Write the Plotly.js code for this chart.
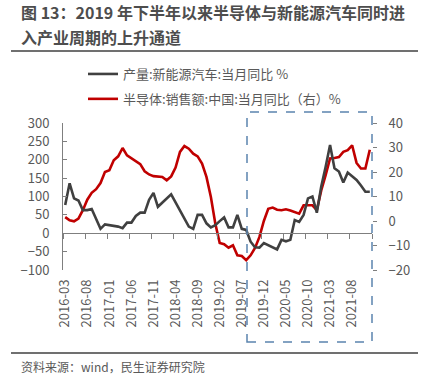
<!DOCTYPE html>
<html>
<head>
<meta charset="utf-8">
<script src="https://cdn.plot.ly/plotly-3.0.1.min.js"></script>
<style>html,body{margin:0;padding:0;background:#fff;}#chart{width:435px;height:385px;}</style>
</head>
<body>
<div id="chart"></div>
<script>
// Monthly data 2016-03 .. 2021-12 (70 months)
const startYear = 2016, startMonth = 3, nMonths = 70;
const months = [];
for (let k = 0; k < nMonths; k++) {
  const m0 = startMonth - 1 + k;
  const y = startYear + Math.floor(m0 / 12);
  const m = (m0 % 12) + 1;
  months.push(y + '-' + (m < 10 ? '0' + m : m));
}
const monthIndex = months.map((_, k) => k);

// 产量:新能源汽车:当月同比 % (left axis)
const nevProduction = [
  77, 136, 95, 89, 63, 63, 66, 41, 12, 24,
  22, 21, 18, 14, 29, 29, 47, 56, 56, 91,
  110, 72, 83, 95, 106, 84, 61, 40, 18, 12,
  50, 50, 27, 16, 22, 33, 43, 16, 16, 50,
  12, 9, -23, -38, -39, -27, -32, -38, -44, -18,
  -22, -18, 36, 31, 50, 95, 100, 56, 127, 181,
  240, 177, 168, 138, 165, 155, 145, 130, 113, 113
];
// 半导体:销售额:中国:当月同比（右）% (right axis)
const semiSales = [
  1.6, 0.3, -0.1, 1, 4.4, 8.7, 11.5, 13, 15.5, 20,
  20.7, 24.8, 26.4, 29.8, 26.8, 25.5, 24.3, 23.2, 20.3, 19,
  18.3, 18, 18, 16.6, 18.2, 21.8, 28.2, 30.6, 29.5, 27.5,
  26.4, 23.4, 18, 9.8, -1, -9, -9.5, -10.9, -9.9, -14,
  -14.3, -16, -14, -11, -6.5, 0, 5, 5.5, 4.6, 4.4,
  4.8, 4.3, 3.7, 3, 6.4, 6.4, 6.4, 4.4, 12.5, 18.7,
  25.5, 25.7, 26.1, 28.2, 28.9, 30.9, 23.7, 21.4, 21.4, 29.1
];
const tickIdx = monthIndex.filter(k => k % 5 === 0);
const tickLabels = tickIdx.map(k => months[k]);
const leftTicks = [-100, -50, 0, 50, 100, 150, 200, 250, 300];
const rightTicks = [-20, -10, 0, 10, 20, 30, 40];

const FONT = '"Noto Sans CJK SC", "Noto Sans", sans-serif';
const TXT = '#595959';

// pixel -> paper helpers (plot area: x 63..372, y 123..270)
const px = x => (x - 63) / 309;
const py = y => (270 - y) / 147;

const traces = [
  {
    x: monthIndex, y: nevProduction, xaxis: 'x2', yaxis: 'y',
    type: 'scatter', mode: 'lines', name: '产量:新能源汽车:当月同比 %',
    line: {color: '#404040', width: 2.6}, legendgroup: 'a', hoverinfo: 'skip'
  },
  {
    x: monthIndex, y: semiSales, xaxis: 'x', yaxis: 'y2',
    type: 'scatter', mode: 'lines', name: '半导体:销售额:中国:当月同比（右）%',
    line: {color: '#C00000', width: 2.6}, legendgroup: 'b', hoverinfo: 'skip'
  }
];

const layout = {
  width: 435, height: 385,
  margin: {l: 63, r: 63, t: 123, b: 115},
  paper_bgcolor: '#fff', plot_bgcolor: 'rgba(0,0,0,0)',
  font: {family: FONT, size: 13, color: TXT},
  showlegend: true,
  legend: {
    x: px(83), y: py(59), xanchor: 'left', yanchor: 'top',
    orientation: 'v', itemwidth: 30, tracegroupgap: 5,
    font: {family: FONT, size: 13, color: TXT}, bgcolor: 'rgba(0,0,0,0)'
  },
  xaxis: {
    range: [-0.5, 69.5], tickvals: tickIdx, ticktext: tickLabels,
    tickangle: -90, showline: false, ticks: '', showgrid: false, zeroline: false,
    tickfont: {family: FONT, size: 13, color: TXT}, ticklabelstandoff: 6
  },
  xaxis2: {
    range: [-0.5, 69.5], overlaying: 'x', anchor: 'free', position: 0.25, side: 'bottom',
    showline: true, linecolor: '#7f7f7f', linewidth: 1,
    ticks: 'outside', ticklen: 5, tickcolor: '#7f7f7f', tick0: 4.5, dtick: 5,
    showticklabels: false, showgrid: false, zeroline: false
  },
  yaxis: {
    range: [-100, 300], tickvals: leftTicks, showgrid: false, zeroline: false,
    showline: true, linecolor: '#7f7f7f', linewidth: 1,
    ticks: 'inside', ticklen: 4, tickcolor: '#7f7f7f', ticklabelstandoff: 10,
    tickfont: {family: FONT, size: 13, color: TXT}
  },
  yaxis2: {
    range: [-20, 40], tickvals: rightTicks, overlaying: 'y', side: 'right',
    showgrid: false, zeroline: false, showline: false,
    ticks: 'outside', ticklen: 4, tickcolor: '#7f7f7f', ticklabelstandoff: 9,
    tickfont: {family: FONT, size: 13, color: TXT}
  },
  shapes: [
    {type: 'line', xref: 'paper', yref: 'paper', x0: px(11), x1: px(418), y0: py(51), y1: py(51),
     line: {color: '#404040', width: 1.5}},
    {type: 'line', xref: 'paper', yref: 'paper', x0: px(11), x1: px(418), y0: py(353), y1: py(353),
     line: {color: '#404040', width: 1.5}},
    {type: 'rect', xref: 'paper', yref: 'paper', x0: px(247), x1: px(372), y0: py(342), y1: py(112),
     line: {color: '#5B84AE', width: 1.5, dash: 'dash'}, fillcolor: 'rgba(0,0,0,0)'}
  ],
  annotations: [
    {text: '<b>图 13：2019 年下半年以来半导体与新能源汽车同时进</b>', xref: 'paper', yref: 'paper',
     x: px(19), y: py(12), xanchor: 'left', yanchor: 'middle', showarrow: false,
     font: {family: FONT, size: 16, color: '#4d4d4d'}},
    {text: '<b>入产业周期的上升通道</b>', xref: 'paper', yref: 'paper',
     x: px(19), y: py(37), xanchor: 'left', yanchor: 'middle', showarrow: false,
     font: {family: FONT, size: 16, color: '#4d4d4d'}},
    {text: '资料来源：wind，民生证券研究院', xref: 'paper', yref: 'paper',
     x: px(19), y: py(366), xanchor: 'left', yanchor: 'middle', showarrow: false,
     font: {family: FONT, size: 12, color: TXT}}
  ]
};

Plotly.newPlot('chart', traces, layout, {staticPlot: true, displayModeBar: false});
</script>
</body>
</html>
